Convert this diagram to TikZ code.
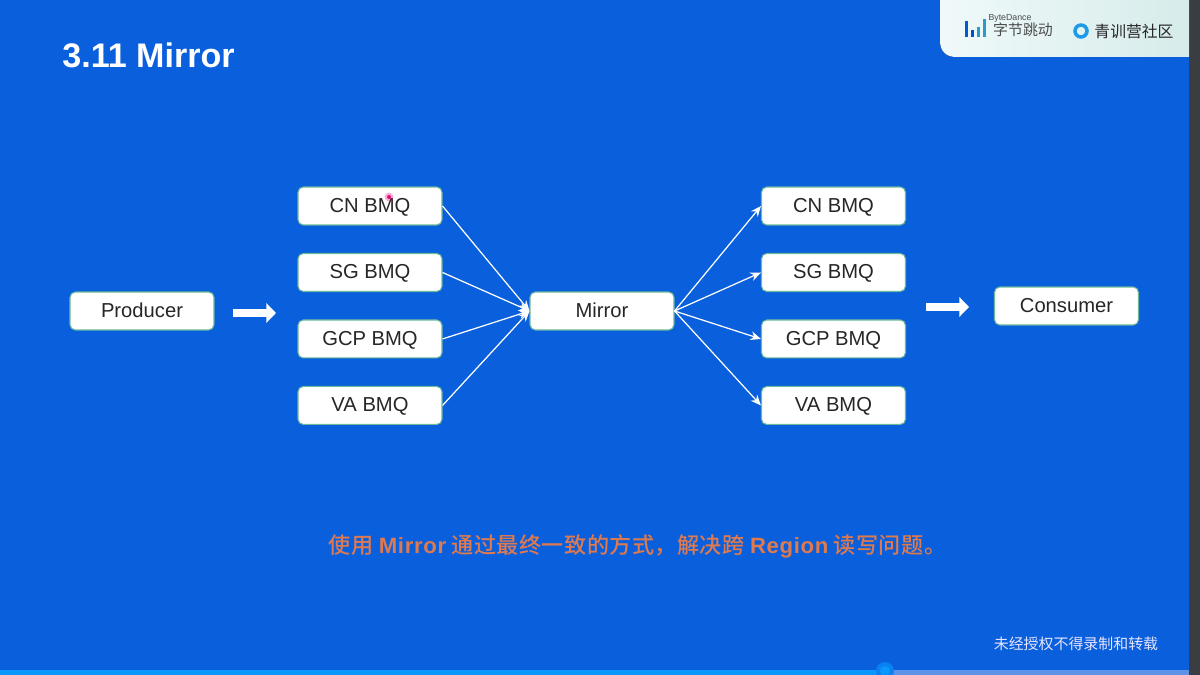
\documentclass[tikz,border=0pt]{standalone}
\usepackage{fontspec}
\setmainfont{Liberation Sans}
\newfontfamily\cjk{Noto Sans CJK SC}
\newfontfamily\cjkmid[LetterSpace=2]{Noto Sans CJK SC Medium}
\newfontfamily\latinmid[LetterSpace=3]{Liberation Sans}
\usetikzlibrary{arrows.meta}

\definecolor{slideblue}{HTML}{0A5FDC}
\definecolor{boxedge}{HTML}{6CB89A}
\definecolor{notecolor}{HTML}{DE7A50}
\definecolor{stripgray}{HTML}{3A3D42}
\definecolor{playedbar}{HTML}{0A98FF}
\definecolor{restbar}{HTML}{5C93E6}
\definecolor{panelleft}{HTML}{F0F9FA}
\definecolor{panelright}{HTML}{D6ECEA}
\definecolor{ringblue}{HTML}{1E9BE8}

\tikzset{
  bmqbox/.style={rectangle, draw=boxedge, fill=white, rounded corners=3pt, line width=0.6pt, text=black!85, minimum width=2.88cm, minimum height=0.76cm, text height=8.6pt, text depth=1.5pt, font=\fontsize{11.5}{14}\selectfont},
  link/.style={draw=white, line width=0.7pt, -{Stealth[length=6pt,width=5pt]}},
  bigarrow/.style={draw=white, line width=4.6pt, -{Triangle[length=5.5pt,width=11pt]}}
}

\begin{document}
\begin{tikzpicture}[x=0.02cm, y=-0.02cm, node distance=1.33cm]

  \useasboundingbox (0,0) rectangle (1200,675);

  % Slide background and player strips
  \fill[slideblue] (0,0) rectangle (1200,675);
  \fill[stripgray] (1189,0) rectangle (1200,675);
  \fill[restbar] (885,670) rectangle (1189,675);
  \fill[playedbar] (0,670) rectangle (885,675);
  \begin{scope}
    \clip (0,0) rectangle (1200,675);
    \fill[playedbar!60!slideblue] (885,671) circle (9);
    \fill[playedbar] (885,671) circle (5);
  \end{scope}

  % Logo panel
  \fill[left color=panelleft, right color=panelright] (940,0) -- (1189,0) -- (1189,57) -- (956,57) .. controls (946,57) and (940,51) .. (940,41) -- cycle;
  \foreach \x/\h/\c in {965/16/blue!55!cyan!80!black, 971/7/blue!60!cyan!80!black, 977/10/cyan!60!teal, 983/18/cyan!60!teal}
    \fill[\c] (\x,37) rectangle ++(3,-\h);
  \node (bytedance) at (1010,18) {\fontsize{5}{6}\selectfont\color{black!70}ByteDance};
  \node (bytecn) at (1023,30) {\cjk\fontsize{8.5}{10}\selectfont\color{black!70}字节跳动};
  \draw[ringblue, line width=2pt] (1081,31) circle (6);
  \node (campus) at (1134,31) {\cjk\fontsize{9}{11}\selectfont\color{black!85}青训营社区};

  % Title
  \node (title) [anchor=west, inner sep=0pt, text=white] at (62,55) {\fontsize{19.4}{23}\selectfont\bfseries 3.11 Mirror};

  % Producer side
  \node (producer) [bmqbox] at (142,311) {Producer};
  \node (cnleft) [bmqbox] at (370,206) {CN BMQ};
  \node (sgleft) [bmqbox, below of=cnleft] {SG BMQ};
  \node (gcpleft) [bmqbox, below of=sgleft] {GCP BMQ};
  \node (valeft) [bmqbox, below of=gcpleft] {VA BMQ};

  % Mirror in the middle
  \node (mirror) [bmqbox] at (602,311) {Mirror};

  % Consumer side
  \node (cnright) [bmqbox] at (833.5,206) {CN BMQ};
  \node (sgright) [bmqbox, below of=cnright] {SG BMQ};
  \node (gcpright) [bmqbox, below of=sgright] {GCP BMQ};
  \node (varight) [bmqbox, below of=gcpright] {VA BMQ};
  \node (consumer) [bmqbox] at (1066.5,306) {Consumer};

  % Block arrows with free ends
  \coordinate (inlet) at (233,313);
  \coordinate (inletend) at (276,313);
  \coordinate (outlet) at (926,307);
  \coordinate (outletend) at (969,307);
  \draw[bigarrow] (inlet) -- (inletend);
  \draw[bigarrow] (outlet) -- (outletend);

  % Links into and out of the mirror
  \foreach \n in {cnleft, sgleft, gcpleft, valeft}
    \draw[link] (\n.east) -- (mirror.west);
  \foreach \n in {cnright, sgright, gcpright, varight}
    \draw[link] (mirror.east) -- (\n.west);

  % Pointer dot
  \fill[magenta!80!red, opacity=0.3] (389,197) circle (4.5);
  \fill[magenta!80!red] (389,197) circle (2);

  % Notes
  \node (note) [text=notecolor] at (637.5,546.5) {\fontsize{12.6}{15}\selectfont\cjkmid 使用 {\latinmid\bfseries Mirror} 通过最终一致的方式，解决跨 {\latinmid\bfseries Region} 读写问题。};
  \node (notice) [text=white!90!blue] at (1076,644) {\cjk\fontsize{8.5}{10}\selectfont 未经授权不得录制和转载};

\end{tikzpicture}
\end{document}
